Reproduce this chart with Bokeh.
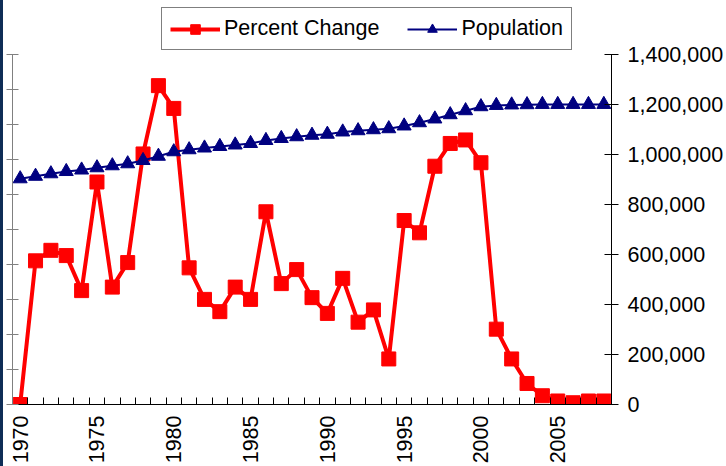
import math
from bokeh.plotting import figure
from bokeh.models import (Range1d, LinearAxis, FixedTicker, NumeralTickFormatter,
                          CustomJSTickFormatter, Legend, LegendItem, ColumnDataSource)
from bokeh.embed import file_html
from bokeh.resources import INLINE

years = list(range(1970, 2009))
percent_change = [0.00, 0.82, 0.88, 0.85, 0.65, 1.27, 0.67, 0.81, 1.43, 1.82,
                  1.69, 0.78, 0.60, 0.53, 0.67, 0.60, 1.10, 0.69, 0.77, 0.61,
                  0.52, 0.72, 0.47, 0.54, 0.26, 1.05, 0.98, 1.36, 1.49, 1.51,
                  1.38, 0.43, 0.26, 0.12, 0.05, 0.02, 0.01, 0.02, 0.02]
population = [902000, 912000, 922000, 931000, 937000, 946000, 954000, 962000, 975000, 992000,
              1010000, 1018000, 1025000, 1031000, 1037000, 1043000, 1055000, 1063000, 1070000, 1076000,
              1080000, 1089000, 1094000, 1098000, 1102000, 1113000, 1126000, 1141000, 1158000, 1174000,
              1190000, 1195000, 1197000, 1198000, 1199000, 1199000, 1199000, 1199000, 1199000]
year_labels = [1970, 1975, 1980, 1985, 1990, 1995, 2000, 2005]
pct_ticks = [0.0, 0.2, 0.4, 0.6, 0.8, 1.0, 1.2, 1.4, 1.6, 1.8, 2.0]
pop_ticks = [0, 200000, 400000, 600000, 800000, 1000000, 1200000, 1400000]

FONT = "Liberation Sans"
FS = "21.5px"

H = 466
BOTTOM = 59
AXIS_TOP = 54          # pixel row where both value axes end
frame_h = H - BOTTOM   # frame runs from the top edge down to the x axis
stretch = frame_h / (frame_h - AXIS_TOP)

src = ColumnDataSource(dict(year=years, pct=percent_change, pop=population))

p = figure(width=723, height=H, output_backend="svg", toolbar_location=None,
           x_range=Range1d(years[0] - 0.5, years[-1] + 0.5),
           y_range=Range1d(pct_ticks[0], pct_ticks[-1] * stretch),
           min_border_left=9, min_border_right=113, min_border_top=0, min_border_bottom=BOTTOM)
p.styles = {"border-left": "3px solid #0E2D56"}
p.outline_line_color = None
p.xgrid.visible = False
p.ygrid.visible = False
p.background_fill_color = "white"
p.border_fill_color = "white"

p.extra_y_ranges = {"pop": Range1d(pop_ticks[0], pop_ticks[-1] * stretch)}

# left axis (labels hidden, as in reference)
ya = p.yaxis[0]
ya.ticker = FixedTicker(ticks=pct_ticks)
ya.bounds = (pct_ticks[0], pct_ticks[-1])
ya.formatter = CustomJSTickFormatter(code="return ''")
ya.axis_line_color = "#808080"
ya.major_tick_line_color = "#808080"
ya.major_tick_in = 6
ya.major_tick_out = 6
ya.minor_tick_line_color = None
ya.major_label_standoff = 0

# bottom axis
xa = p.xaxis[0]
xa.ticker = FixedTicker(ticks=year_labels,
                        minor_ticks=[y - 0.5 for y in years] + [years[-1] + 0.5])
xa.major_tick_in = 0
xa.major_tick_out = 0
xa.minor_tick_in = 7
xa.minor_tick_out = 0
xa.minor_tick_line_color = "black"
xa.axis_line_color = "black"
xa.major_label_orientation = math.pi / 2
xa.major_label_standoff = 11
xa.major_label_text_font = FONT
xa.major_label_text_font_size = FS
xa.major_label_text_color = "black"

# right axis
ra = LinearAxis(y_range_name="pop", ticker=FixedTicker(ticks=pop_ticks),
                formatter=NumeralTickFormatter(format="0,0"),
                bounds=(pop_ticks[0], pop_ticks[-1]))
ra.axis_line_color = "black"
ra.major_tick_line_color = "black"
ra.major_tick_in = 7
ra.major_tick_out = 7
ra.minor_tick_line_color = None
ra.major_label_standoff = 9
ra.major_label_text_font = FONT
ra.major_label_text_font_size = FS
ra.major_label_text_color = "black"
p.add_layout(ra, "right")

r_line = p.line("year", "pct", source=src, line_color="#FF0000", line_width=4)
r_pts = p.scatter("year", "pct", source=src, marker="square", size=14,
                  fill_color="#FF0000", line_color="#FF0000")
b_line = p.line("year", "pop", source=src, y_range_name="pop", line_color="#000080", line_width=2)
b_pts = p.scatter("year", "pop", source=src, y_range_name="pop", marker="triangle", size=14,
                  fill_color="#000080", line_color="#000080")

legend = Legend(items=[LegendItem(label="Percent Change", renderers=[r_line, r_pts]),
                       LegendItem(label="Population", renderers=[b_line, b_pts])],
                orientation="horizontal", location=(149, frame_h - 53),
                label_text_font=FONT, label_text_font_size=FS, label_text_color="black",
                glyph_width=50, glyph_height=24, label_standoff=4, spacing=28,
                padding=8, margin=0, border_line_color="black", border_line_width=1,
                background_fill_color="white", background_fill_alpha=1)
p.add_layout(legend)

open("out.html", "w").write(file_html(p, INLINE))
